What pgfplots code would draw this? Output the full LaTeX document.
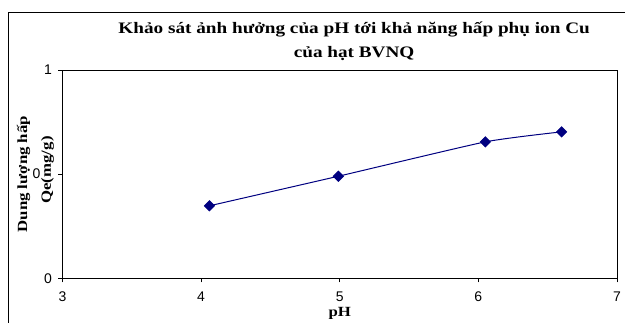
\documentclass[border=0pt]{standalone}
\usepackage{pgfplots}
\pgfplotsset{compat=1.18}
\usepackage{fontspec}
\setmainfont{Liberation Serif}
\setsansfont{Liberation Sans}
\definecolor{navy}{HTML}{000080}
\begin{document}
\begin{tikzpicture}
\begin{axis}[
  name=ax,
  at={(0pt,0pt)}, anchor=south west,
  scale only axis, width=554.5pt, height=208.3pt,
  xmin=3, xmax=7, ymin=0, ymax=1,
  xtick={3,4,5,6,7}, ytick={0,0.5,1},
  yticklabels={0,0.5,1},
  tick align=outside, tick pos=left,
  major tick length=4pt,
  axis line style={black, line width=0.9pt},
  tick style={black, line width=0.6pt},
  ticklabel style={font=\sffamily\fontsize{14}{16}\selectfont},
  /pgf/number format/assume math mode=true,
  xticklabel style={yshift=-6pt},
  yticklabel style={xshift=-3pt},
  clip=false,
]
\addplot[navy, line width=1pt, smooth, tension=0.3, mark=square*, mark size=3.5pt, mark options={fill=navy, draw=navy, rotate=45}]
coordinates {(4.06,0.348) (4.99,0.490) (6.05,0.655) (6.60,0.703)};
\node[font=\bfseries\fontsize{16}{24}\selectfont, align=center] at (rel axis cs:0.526,1.138) {\scalebox{1.2}[1]{Khảo sát ảnh hưởng của pH tới khả năng hấp phụ ion Cu}\\\scalebox{1.2}[1]{của hạt BVNQ}};
\node[font=\bfseries\fontsize{14}{15}\selectfont, rotate=90] at (rel axis cs:-0.07,0.5) {\scalebox{1.2}[1]{Dung lượng hấp}};
\node[font=\bfseries\fontsize{14}{15}\selectfont, rotate=90, fill=white, inner sep=0.5pt] at (rel axis cs:-0.027,0.52) {\scalebox{1.2}[1]{Qe(mg/g)}};
\node[font=\bfseries\fontsize{14}{15}\selectfont] at (rel axis cs:0.5,-0.167) {\scalebox{1.2}[1]{pH}};
\end{axis}
\draw[black, line width=0.8pt] (-54pt,-60pt) rectangle (600pt,266.3pt);
\pgfresetboundingbox
\useasboundingbox (-62.5pt,-43.7pt) rectangle (562.5pt,278.3pt);
\end{tikzpicture}
\end{document}
